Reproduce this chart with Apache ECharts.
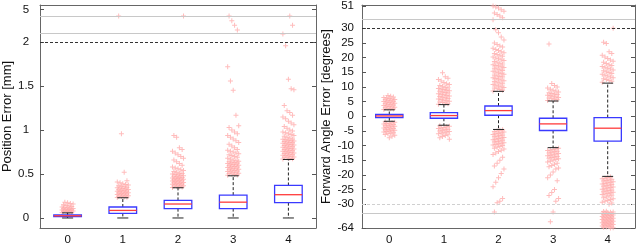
<!DOCTYPE html>
<html><head><meta charset="utf-8">
<script src="https://cdn.jsdelivr.net/npm/echarts@6/dist/echarts.min.js"></script>
<style>html,body{margin:0;padding:0;background:#fff}#c{width:640px;height:246px}</style>
</head><body><div id="c"></div>
<script>
const categories = ['0', '1', '2', '3', '4'];

// Position error [mm] box statistics
const posWhiskerLow  = [0, 0, 0, 0, 0];
const posQ1          = [0.015, 0.052, 0.106, 0.106, 0.174];
const posMedian      = [0.025, 0.086, 0.159, 0.18, 0.265];
const posQ3          = [0.035, 0.125, 0.2, 0.26, 0.37];
const posWhiskerHigh = [0.058, 0.23, 0.344, 0.48, 0.666];
const posOut0 = [0.062,0.066,0.07,0.073,0.076,0.079,0.082,0.085,0.088,0.091,0.094,0.097,0.1,0.104,0.108,0.112,0.116,0.12,0.125,0.13,0.136,0.142,0.15,0.158,0.165,0.172,0.18];
const posOut1 = [0.232,0.236,0.24,0.244,0.248,0.252,0.256,0.26,0.264,0.268,0.272,0.276,0.28,0.284,0.288,0.292,0.296,0.3,0.304,0.308,0.312,0.316,0.32,0.325,0.33,0.335,0.34,0.345,0.35,0.356,0.362,0.368,0.375,0.382,0.39,0.4,0.41,0.425,0.52,0.96,4.43];
const posOut2 = [0.348,0.352,0.356,0.36,0.364,0.368,0.372,0.376,0.38,0.384,0.388,0.392,0.396,0.4,0.404,0.408,0.412,0.416,0.42,0.424,0.428,0.432,0.436,0.44,0.444,0.448,0.452,0.456,0.46,0.465,0.47,0.475,0.48,0.485,0.49,0.495,0.5,0.505,0.51,0.52,0.53,0.54,0.55,0.56,0.57,0.58,0.6,0.62,0.64,0.66,0.68,0.7,0.72,0.74,0.76,0.78,0.8,0.92,0.94,4.43];
const posOut3 = [0.485,0.49,0.495,0.5,0.505,0.51,0.515,0.52,0.525,0.53,0.535,0.54,0.545,0.55,0.555,0.56,0.565,0.57,0.575,0.58,0.585,0.59,0.595,0.6,0.605,0.61,0.615,0.62,0.625,0.63,0.635,0.64,0.645,0.65,0.66,0.67,0.68,0.69,0.7,0.71,0.72,0.73,0.74,0.75,0.76,0.77,0.78,0.8,0.82,0.84,0.86,0.88,0.9,0.92,0.94,0.96,0.98,1.0,1.03,1.05,1.17,1.455,1.56,1.72,3.13,3.56,3.99,4.43];
const posOut4 = [0.67,0.675,0.68,0.685,0.69,0.695,0.7,0.705,0.71,0.715,0.72,0.725,0.73,0.735,0.74,0.745,0.75,0.755,0.76,0.765,0.77,0.775,0.78,0.785,0.79,0.795,0.8,0.805,0.81,0.815,0.82,0.825,0.83,0.835,0.84,0.845,0.85,0.855,0.86,0.865,0.87,0.875,0.88,0.885,0.89,0.895,0.9,0.91,0.92,0.93,0.94,0.95,0.96,0.97,0.98,0.99,1.0,1.02,1.04,1.06,1.08,1.1,1.13,1.15,1.17,1.2,1.22,1.28,1.46,1.47,1.58,1.96,2.76,3.56,4.43];
const posTicks = [0, 0.5, 1, 1.5, 2, 5];

// Forward angle error [degrees] box statistics
const angWhiskerLow  = [-1.7, -3.05, -4.5, -10.7, -20.5];
const angQ1          = [-0.44, -0.68, 0.35, -4.85, -8.5];
const angMedian      = [0.1, 0.24, 1.93, -2.6, -4.07];
const angQ3          = [0.6, 1.26, 3.5, -0.68, -0.44];
const angWhiskerHigh = [2.2, 3.97, 8.5, 5.2, 11.3];
const angOut0 = [2.3,2.45,2.6,2.75,2.9,3.05,3.2,3.35,3.5,3.65,3.8,3.95,4.1,4.25,4.4,4.55,4.7,4.85,5,5.15,5.3,5.45,5.6,5.75,5.9,6.05,6.2,6.4,6.6,6.8,7.1,
  -1.9,-2.05,-2.2,-2.35,-2.5,-2.65,-2.8,-2.95,-3.1,-3.25,-3.4,-3.55,-3.7,-3.85,-4,-4.15,-4.3,-4.45,-4.6,-4.75,-4.9,-5.05,-5.2,-5.4,-5.6,-5.8,-6,-6.2,-6.5,-6.8,-7.3];
const angOut1 = [4.1,4.3,4.5,4.7,4.9,5.1,5.3,5.5,5.7,5.9,6.1,6.3,6.5,6.7,6.9,7.1,7.3,7.5,7.7,7.9,8.1,8.3,8.5,8.7,8.9,9.1,9.3,9.5,9.7,9.9,10.2,10.5,10.8,11.1,11.5,12,12.5,13,13.5,14.8,
  -3.2,-3.4,-3.6,-3.8,-4,-4.2,-4.4,-4.6,-4.8,-5,-5.2,-5.4,-5.6,-5.8,-6,-6.3,-6.6,-6.9,-7.3,-7.8];
const angOut2 = [8.6,8.85,9.1,9.35,9.6,9.85,10.1,10.35,10.6,10.85,11.1,11.35,11.6,11.85,12.1,12.35,12.6,12.85,13.1,13.35,13.6,13.85,14.1,14.35,14.6,14.85,15.1,15.35,15.6,15.85,16.1,16.35,16.6,16.85,17.1,17.35,17.6,17.85,18.1,18.4,18.7,19,19.3,19.6,19.9,20.2,20.5,20.8,21.1,21.4,21.7,22,22.4,22.8,23.2,23.6,24,24.5,25,26,27,28.5,29.5,38,40,41.5,43,44.5,46,47.5,49,50,51,
  -4.6,-4.8,-5,-5.2,-5.4,-5.6,-5.8,-6,-6.2,-6.4,-6.6,-6.8,-7,-7.2,-7.4,-7.6,-7.8,-8,-8.2,-8.4,-8.6,-8.8,-9,-9.2,-9.4,-9.6,-9.8,-10,-10.3,-10.6,-10.9,-11.2,-11.6,-12,-12.5,-13,-14,-15,-16,-17,-18,-19.5,-21,-22.5,-24,-28,-29,-29.5,-41];
const angOut3 = [5.4,5.6,5.8,6,6.2,6.4,6.6,6.8,7,7.2,7.4,7.6,7.8,8,8.3,8.6,8.9,9.2,9.6,10,10.5,11.2,24.6,
  -10.9,-11.1,-11.3,-11.5,-11.7,-11.9,-12.1,-12.3,-12.5,-12.7,-12.9,-13.1,-13.3,-13.5,-13.7,-13.9,-14.1,-14.3,-14.5,-14.7,-15,-15.3,-15.6,-16,-16.4,-16.8,-17.2,-17.6,-18,-19,-20,-21,-22,-25,-26,-27,-28,-29,-41,-55];
const angOut4 = [11.6,11.9,12.2,12.5,12.8,13.1,13.4,13.7,14,14.3,14.6,14.9,15.2,15.5,15.8,16.1,16.4,16.7,17,17.3,17.6,18,18.4,18.8,19.2,19.7,20.2,20.8,21.4,22,24.8,25.2,30,
  -20.7,-20.9,-21.1,-21.3,-21.5,-21.7,-21.9,-22.1,-22.3,-22.5,-22.7,-22.9,-23.1,-23.3,-23.5,-23.7,-23.9,-24.1,-24.3,-24.5,-24.7,-24.9,-25.1,-25.3,-25.5,-25.7,-25.9,-26.1,-26.3,-26.5,-26.7,-26.9,-27.2,-27.5,-27.8,-28.1,-28.4,-28.7,-29,-29.3,-29.6,-30,
  -40,-40.5,-41,-41.5,-42,-42.5,-43,-43.5,-44,-44.5,-45,-45.5,-46,-46.5,-47,-47.5,-48,-48.5,-49,-49.5,-50,-50.5,-51,-51.5,-52,-52.5,-53,-53.5,-54,-54.5,-55,-55.5,-56,-56.5,-57,-57.5,-58,-58.5,-59,-59.5,-60,-60.5,-61,-61.5,-62,-62.5,-63,-63.5,-64];
const angTicks = [-64, -30, -25, -20, -15, -10, -5, 0, 5, 10, 15, 20, 25, 30, 51];

// broken-axis transforms (display scale)
function tPos(v) { return v <= 2 ? v : 2 + (v - 2) * 0.37 / 3; }
function tAng(v) {
  if (v > 30) return 30 + (v - 30) * 7.6 / 21;
  if (v < -30) return -30 + (v + 30) * 8.1 / 34;
  return v;
}
function jitter(i) { return (((i * 7) % 9) - 4) * 0.025; }

const FONT = 'Liberation Sans, Arial, sans-serif';
const PLUS = 'path://M0,2H5V3H0Z M2,0H3V5H2Z';

function boxData(lo, q1, md, q3, hi, t) {
  return categories.map((c, i) => [i, t(lo[i]), t(q1[i]), t(md[i]), t(q3[i]), t(hi[i])]);
}
function outData(groups, t) {
  const out = [];
  groups.forEach((arr, c) => arr.forEach((v, i) => out.push([c + jitter(i), t(v)])));
  return out;
}
function renderBox(params, api) {
  const x = api.value(0);
  const band = api.size([1, 0])[0];
  const bw = band * 0.5, cw = band * 0.2;
  const pLo = api.coord([x, api.value(1)]);
  const pQ1 = api.coord([x, api.value(2)]);
  const pMd = api.coord([x, api.value(3)]);
  const pQ3 = api.coord([x, api.value(4)]);
  const pHi = api.coord([x, api.value(5)]);
  const cx = pMd[0];
  const dash = { stroke: '#222', lineWidth: 1, lineDash: [3, 2] };
  const solid = { stroke: '#222', lineWidth: 1 };
  return {
    type: 'group',
    children: [
      { type: 'line', shape: { x1: cx, y1: pQ3[1], x2: cx, y2: pHi[1] }, style: dash },
      { type: 'line', shape: { x1: cx, y1: pQ1[1], x2: cx, y2: pLo[1] }, style: dash },
      { type: 'line', shape: { x1: cx - cw / 2, y1: pHi[1], x2: cx + cw / 2, y2: pHi[1] }, style: solid },
      { type: 'line', shape: { x1: cx - cw / 2, y1: pLo[1], x2: cx + cw / 2, y2: pLo[1] }, style: solid },
      { type: 'rect', shape: { x: cx - bw / 2, y: pQ3[1], width: bw, height: pQ1[1] - pQ3[1] },
        style: { fill: 'none', stroke: '#3a3aff', lineWidth: 1.3 } },
      { type: 'line', shape: { x1: cx - bw / 2, y1: pMd[1], x2: cx + bw / 2, y2: pMd[1] },
        style: { stroke: '#ff3b3b', lineWidth: 1.3 } }
    ]
  };
}

function makeY(gridIndex, min, max, ticks, t, labelOpts, name, nameGap) {
  const pos = ticks.map(t);
  const fmt = (val) => {
    for (let i = 0; i < pos.length; i++) if (Math.abs(pos[i] - val) < 1e-6) return String(ticks[i]);
    return '';
  };
  return [{
    type: 'value', gridIndex, min, max, position: 'left',
    name, nameLocation: 'middle', nameGap,
    nameTextStyle: { fontFamily: FONT, fontSize: 13, color: '#111' },
    axisLine: { show: true, onZero: false, lineStyle: { color: '#666' } },
    axisTick: { show: true, inside: true, length: 4, customValues: pos, lineStyle: { color: '#555' } },
    axisLabel: Object.assign({ customValues: pos, formatter: fmt, fontFamily: FONT, fontSize: 11.5, color: '#111' }, labelOpts),
    splitLine: { show: false }
  }, {
    type: 'value', gridIndex, min, max, position: 'right',
    axisLine: { show: true, onZero: false, lineStyle: { color: '#666' } },
    axisTick: { show: true, inside: true, length: 4, customValues: pos, lineStyle: { color: '#555' } },
    axisLabel: { show: false },
    splitLine: { show: false }
  }];
}
function makeX(gridIndex) {
  return [{
    type: 'category', gridIndex, data: categories, position: 'bottom',
    axisLine: { onZero: false, lineStyle: { color: '#666' } },
    axisTick: { inside: true, alignWithLabel: true, length: 4, lineStyle: { color: '#555' } },
    axisLabel: { fontFamily: FONT, fontSize: 11.5, color: '#111', margin: 6 }
  }, {
    type: 'category', gridIndex, data: categories, position: 'top',
    axisLine: { onZero: false, lineStyle: { color: '#666' } },
    axisTick: { inside: true, alignWithLabel: true, length: 4, lineStyle: { color: '#555' } },
    axisLabel: { show: false }
  }, {
    type: 'value', gridIndex, min: -0.5, max: 4.5, show: false,
    axisLine: { onZero: false }
  }];
}
function ml(y, color, type) {
  return { yAxis: y, lineStyle: { color, type, width: 1 } };
}

const chart = echarts.init(document.getElementById('c'), null, { renderer: 'canvas' });
chart.setOption({
  animation: false,
  backgroundColor: '#fff',
  grid: [
    { left: 40, top: 5, width: 276, height: 223 },
    { left: 362, top: 5, width: 273, height: 224 }
  ],
  xAxis: [...makeX(0), ...makeX(1)],
  yAxis: [
    ...makeY(0, -0.114, 2.424, posTicks, tPos, { align: 'center', margin: 14 }, 'Position Error [mm]', 25),
    ...makeY(1, -38.1, 37.9, angTicks, tAng, { margin: 8 }, 'Forward Angle Error [degrees]', 29)
  ],
  series: [
    {
      type: 'scatter', xAxisIndex: 2, yAxisIndex: 0, symbol: PLUS, symbolSize: 5, silent: true,
      itemStyle: { color: '#ffabab' }, z: 2,
      data: outData([posOut0, posOut1, posOut2, posOut3, posOut4], tPos),
      markLine: { silent: true, symbol: ['none', 'none'], label: { show: false }, animation: false,
        data: [ml(2, '#333', [3, 2]), ml(2.095, '#c8c8c8', 'solid'), ml(2.30, '#c8c8c8', 'solid')] }
    },
    {
      type: 'custom', xAxisIndex: 0, yAxisIndex: 0, renderItem: renderBox, z: 3, silent: true,
      data: boxData(posWhiskerLow, posQ1, posMedian, posQ3, posWhiskerHigh, tPos)
    },
    {
      type: 'scatter', xAxisIndex: 5, yAxisIndex: 2, symbol: PLUS, symbolSize: 5, silent: true,
      itemStyle: { color: '#ffabab' }, z: 2,
      data: outData([angOut0, angOut1, angOut2, angOut3, angOut4], tAng),
      markLine: { silent: true, symbol: ['none', 'none'], label: { show: false }, animation: false,
        data: [ml(30, '#333', [3, 2]), ml(33.05, '#c8c8c8', 'solid'), ml(-30, '#d0d0d0', [3, 2]), ml(-32.9, '#c8c8c8', 'solid')] }
    },
    {
      type: 'custom', xAxisIndex: 3, yAxisIndex: 2, renderItem: renderBox, z: 3, silent: true,
      data: boxData(angWhiskerLow, angQ1, angMedian, angQ3, angWhiskerHigh, tAng)
    }
  ]
});
</script>
</body></html>
